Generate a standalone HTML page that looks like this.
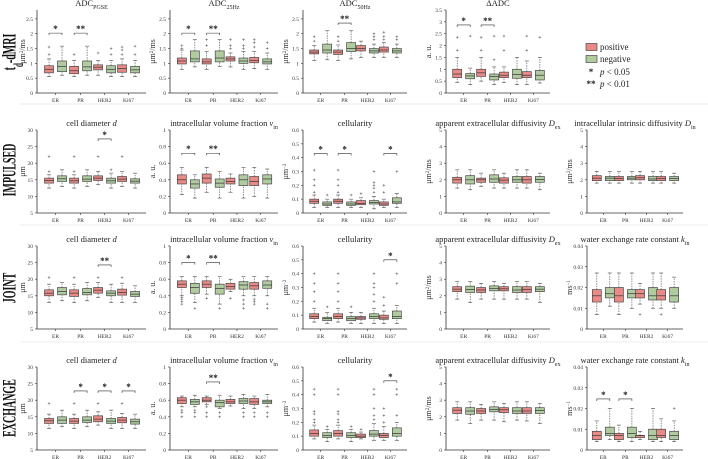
<!DOCTYPE html>
<html><head><meta charset="utf-8"><style>
html,body{margin:0;padding:0;background:#fff;}
svg{display:block;font-family:"Liberation Serif",serif;}
</style></head><body>
<svg id="fig" width="708" height="459" viewBox="0 0 708 459" xmlns="http://www.w3.org/2000/svg"></svg>
<script>
// ---------- DATA (whisker-low, q1, median, q3, whisker-high) per group ER,PR,HER2,Ki67 ----------
const categories = ["ER","PR","HER2","Ki67"];
const ticksAdc = [0,0.5,1,1.5,2,2.5];
const ticksDadc = [0,0.5,1,1.5,2,2.5,3,3.5];
const ticksD = [5,10,15,20,25,30];
const ticksV = [0,0.2,0.4,0.6,0.8,1];
const ticksC = [0,0.1,0.2,0.3,0.4,0.5,0.6];
const ticksDiff = [0,1,2,3,4,5];
const ticksK = [0,0.01,0.02,0.03,0.04];

// Row 1
const pgseRed = [[0.55,0.68,0.8,0.92,1.15],[0.55,0.65,0.75,0.9,1.1],[0.6,0.78,0.87,0.95,1.1],[0.55,0.7,0.82,0.95,1.15]];
const pgseGreen = [[0.6,0.72,0.9,1.08,1.58],[0.6,0.75,0.88,1.08,1.58],[0.55,0.68,0.8,0.92,1.1],[0.55,0.68,0.78,0.9,1.1]];
const pgseOutRed = [[1.3,1.55],[1.3],[1.35],[1.3,1.45,1.55]];
const pgseOutGreen = [[],[],[1.3,1.5],[1.3,1.58]];
const pgseSig = ["*","**","",""];

const a25Red = [[0.8,0.98,1.08,1.18,1.45],[0.8,0.98,1.05,1.15,1.4],[0.88,1.08,1.15,1.22,1.35],[0.82,1.02,1.1,1.2,1.4]];
const a25Green = [[0.88,1.05,1.15,1.42,1.8],[0.9,1.05,1.18,1.42,1.8],[0.8,1.0,1.08,1.18,1.4],[0.8,0.98,1.05,1.15,1.35]];
const a25OutRed = [[1.5,1.6],[1.6,1.8],[1.5,1.6,1.8],[1.55,1.7,1.8]];
const a25OutGreen = [[],[],[1.5,1.6,1.8],[1.5,1.7]];
const a25Sig = ["*","**","",""];

const a50Red = [[1.1,1.32,1.38,1.45,1.6],[1.1,1.3,1.38,1.45,1.62],[1.2,1.42,1.5,1.6,1.75],[1.2,1.38,1.45,1.55,1.7]];
const a50Green = [[1.12,1.35,1.45,1.65,2.1],[1.15,1.4,1.5,1.7,2.1],[1.2,1.35,1.42,1.5,1.65],[1.2,1.35,1.42,1.5,1.65]];
const a50OutRed = [[1.75,1.9],[1.75,1.9],[],[1.8,1.9,2.05]];
const a50OutGreen = [[],[],[1.8,1.9,2.0],[1.8,1.9]];
const a50Sig = ["","**","",""];

const dadcRed = [[0.45,0.65,0.8,1.0,1.5],[0.5,0.7,0.85,1.0,1.5],[0.45,0.65,0.75,0.88,1.1],[0.35,0.65,0.75,0.9,1.35]];
const dadcGreen = [[0.35,0.6,0.72,0.82,1.05],[0.35,0.55,0.7,0.8,1.1],[0.35,0.62,0.78,1.0,1.5],[0.42,0.55,0.75,0.95,1.5]];
const dadcOutRed = [[1.8,2.35],[1.8,2.35],[1.8,2.4],[1.8,2.4]];
const dadcOutGreen = [[2.4],[1.4,2.4],[],[2.35]];
const dadcSig = ["*","**","",""];

// Row 2 IMPULSED
const idRed = [[12.5,14,14.8,15.5,16.5],[12.5,14,14.7,15.5,16.5],[13.5,14.8,15.5,16.2,17.5],[13,14.5,15.2,16,17.5]];
const idGreen = [[13,14.5,15.3,16.2,18],[13,14.5,15.2,16.2,18],[12.5,14,14.7,15.5,17],[12.5,14,14.6,15.3,17]];
const idOutRed = [[17.5,22],[17.5,22],[22],[22]];
const idOutGreen = [[],[],[18],[]];
const idSig = ["","","*",""];

const ivRed = [[0.22,0.35,0.4,0.46,0.55],[0.25,0.36,0.42,0.47,0.55],[0.25,0.35,0.38,0.42,0.47],[0.2,0.33,0.38,0.44,0.55]];
const ivGreen = [[0.18,0.3,0.35,0.4,0.46],[0.18,0.31,0.36,0.41,0.5],[0.18,0.33,0.4,0.46,0.55],[0.18,0.35,0.41,0.46,0.53]];
const ivOutRed = [[],[],[],[]];
const ivOutGreen = [[],[],[],[]];
const ivSig = ["*","**","",""];

const icRed = [[0.04,0.07,0.085,0.1,0.13],[0.04,0.07,0.085,0.1,0.13],[0.04,0.06,0.07,0.09,0.11],[0.04,0.055,0.065,0.08,0.1]];
const icGreen = [[0.04,0.055,0.065,0.08,0.1],[0.04,0.055,0.065,0.08,0.1],[0.03,0.065,0.075,0.09,0.12],[0.04,0.07,0.08,0.11,0.14]];
const icOutRed = [[0.15,0.2,0.24,0.31],[0.15,0.2,0.24,0.31],[0.14],[0.15,0.2]];
const icOutGreen = [[0.13],[0.13],[0.15,0.18,0.2,0.22,0.3],[0.3]];
const icSig = ["*","*","","*"];

const iexRed = [[1.5,1.8,2.0,2.15,2.6],[1.6,1.85,2.0,2.1,2.4],[1.5,1.8,1.98,2.12,2.4],[1.5,1.8,2.0,2.2,2.6]];
const iexGreen = [[1.4,1.75,2.0,2.25,2.6],[1.5,1.85,2.05,2.3,2.6],[1.5,1.85,2.0,2.2,2.6],[1.4,1.85,2.02,2.2,2.4]];
const iexOutRed = [[],[],[],[]];
const iexOutGreen = [[],[],[],[]];
const iexSig = ["","","",""];

const iinRed = [[1.8,1.95,2.1,2.25,2.5],[1.8,1.95,2.08,2.2,2.5],[1.8,2.0,2.12,2.25,2.5],[1.8,1.95,2.08,2.2,2.5]];
const iinGreen = [[1.8,1.95,2.1,2.2,2.5],[1.8,2.0,2.1,2.2,2.5],[1.8,1.95,2.05,2.2,2.5],[1.8,1.95,2.08,2.2,2.4]];
const iinOutRed = [[],[],[],[]];
const iinOutGreen = [[],[],[],[]];
const iinSig = ["","","",""];

// Row 3 JOINT
const jdRed = [[13,15,15.8,16.8,18.5],[13,14.8,15.8,16.8,18.5],[14.5,15.8,16.7,17.5,19],[13,15.2,16,17,18.8]];
const jdGreen = [[13.5,15.3,16.3,17.5,19],[13.5,15.3,16,17.2,19],[13,15,15.8,16.5,18.5],[13,14.8,15.5,16.3,18]];
const jdOutRed = [[20.5],[20.5],[20.5],[20.5]];
const jdOutGreen = [[],[],[],[]];
const jdSig = ["","","**",""];

const jvRed = [[0.4,0.5,0.54,0.58,0.63],[0.42,0.5,0.54,0.58,0.63],[0.45,0.48,0.51,0.55,0.6],[0.4,0.48,0.52,0.56,0.63]];
const jvGreen = [[0.32,0.43,0.5,0.55,0.63],[0.3,0.42,0.49,0.54,0.63],[0.4,0.48,0.53,0.57,0.63],[0.4,0.49,0.53,0.58,0.63]];
const jvOutRed = [[0.3,0.33,0.36,0.38],[0.37],[0.37],[0.3,0.33,0.36]];
const jvOutGreen = [[0.25],[0.25],[0.25,0.3,0.35],[0.3,0.25]];
const jvSig = ["*","**","",""];

const jcRed = [[0.05,0.075,0.09,0.11,0.15],[0.05,0.075,0.09,0.11,0.15],[0.04,0.07,0.08,0.09,0.12],[0.04,0.07,0.08,0.1,0.13]];
const jcGreen = [[0.04,0.06,0.075,0.085,0.12],[0.04,0.06,0.075,0.09,0.12],[0.04,0.075,0.09,0.11,0.15],[0.04,0.075,0.09,0.13,0.17]];
const jcOutRed = [[0.2,0.27,0.33,0.4],[0.2,0.27,0.33,0.4],[],[0.17,0.23]];
const jcOutGreen = [[0.16],[0.16],[0.2,0.25,0.3,0.33,0.4],[0.33,0.4]];
const jcSig = ["","","","*"];

const jexRed = [[1.8,2.25,2.4,2.55,2.85],[1.8,2.2,2.35,2.5,2.75],[1.8,2.3,2.42,2.55,2.75],[1.8,2.2,2.38,2.55,2.85]];
const jexGreen = [[1.6,2.2,2.38,2.58,2.85],[1.8,2.3,2.45,2.6,2.85],[1.8,2.2,2.35,2.55,2.85],[1.6,2.25,2.4,2.55,2.75]];
const jexOutRed = [[],[],[],[]];
const jexOutGreen = [[],[],[],[]];
const jexSig = ["","","",""];

const jkRed = [[0.007,0.013,0.016,0.019,0.027],[0.007,0.013,0.016,0.020,0.027],[0.012,0.015,0.017,0.019,0.022],[0.010,0.014,0.016,0.019,0.027]];
const jkGreen = [[0.011,0.015,0.017,0.020,0.027],[0.010,0.015,0.017,0.019,0.027],[0.010,0.014,0.016,0.020,0.027],[0.010,0.013,0.016,0.020,0.025]];
const jkOutRed = [[],[],[0.007],[0.007]];
const jkOutGreen = [[],[],[],[]];
const jkSig = ["","","",""];

// Row 4 EXCHANGE
const edRed = [[11.5,13,13.8,14.5,15.8],[11.5,13,13.7,14.5,15.8],[12.5,13.5,14.3,15.3,16.5],[11.5,13.2,14,14.8,16]];
const edGreen = [[12,13,14,15,17],[12,13.3,14,15,17],[11.5,13,13.7,14.5,17],[11.5,12.8,13.5,14.3,15.8]];
const edOutRed = [[19],[19],[19],[19]];
const edOutGreen = [[],[],[],[]];
const edSig = ["","*","*","*"];

const evRed = [[0.52,0.56,0.6,0.63,0.65],[0.55,0.58,0.6,0.63,0.65],[0.53,0.56,0.58,0.61,0.65],[0.5,0.55,0.58,0.62,0.65]];
const evGreen = [[0.52,0.55,0.58,0.61,0.66],[0.5,0.52,0.57,0.6,0.66],[0.5,0.56,0.59,0.62,0.67],[0.52,0.56,0.58,0.6,0.67]];
const evOutRed = [[0.4,0.45,0.48],[0.4,0.45,0.52],[],[0.4,0.45]];
const evOutGreen = [[0.4,0.45,0.48],[0.4,0.45],[0.4,0.45],[0.4,0.45]];
const evSig = ["","**","",""];

const ecRed = [[0.08,0.1,0.12,0.145,0.18],[0.08,0.1,0.12,0.14,0.18],[0.08,0.09,0.1,0.115,0.13],[0.07,0.09,0.105,0.12,0.17]];
const ecGreen = [[0.06,0.09,0.105,0.125,0.15],[0.06,0.09,0.105,0.125,0.15],[0.07,0.1,0.115,0.14,0.19],[0.07,0.1,0.12,0.16,0.2]];
const ecOutRed = [[0.2,0.22,0.26,0.28,0.4,0.44],[0.2,0.22,0.26,0.28,0.4,0.44],[0.15],[0.2,0.25,0.3]];
const ecOutGreen = [[0.17],[0.17],[0.22,0.25,0.3,0.4,0.44],[0.25,0.4,0.44]];
const ecSig = ["","","","*"];

const eexRed = [[1.8,2.2,2.4,2.55,2.9],[1.8,2.2,2.35,2.5,2.75],[1.7,2.25,2.42,2.55,2.8],[1.75,2.2,2.35,2.55,2.9]];
const eexGreen = [[1.6,2.15,2.35,2.55,2.9],[1.8,2.3,2.45,2.6,2.9],[1.8,2.2,2.35,2.55,2.9],[1.6,2.2,2.38,2.55,2.8]];
const eexOutRed = [[],[],[],[]];
const eexOutGreen = [[],[],[],[]];
const eexSig = ["","","",""];

const ekRed = [[0.004,0.005,0.007,0.009,0.014],[0.004,0.005,0.007,0.008,0.012],[0.005,0.006,0.007,0.007,0.009],[0.004,0.006,0.007,0.010,0.015]];
const ekGreen = [[0.005,0.007,0.008,0.011,0.020],[0.004,0.006,0.008,0.011,0.020],[0.004,0.005,0.007,0.010,0.020],[0.004,0.005,0.007,0.009,0.014]];
const ekOutRed = [[],[],[],[]];
const ekOutGreen = [[],[],[],[0.020]];
const ekSig = ["*","*","",""];

// ---------- LAYOUT ----------
const svg = document.getElementById('fig');
const NS = 'http://www.w3.org/2000/svg';
const rowTops = [10,130,246,367];
const colLefts = [37,170,303,446,587];
const colWidths = [109,108,104,104,96];
const panelH = 83;
const groupFrac = [0.17,0.40,0.62,0.84];
const RED = '#ea8a86', GREEN = '#afcb9f', STROKE = '#4a4a4a';

function mk(tag, attrs, parent){
  const e = document.createElementNS(NS, tag);
  for (const k in attrs) e.setAttribute(k, attrs[k]);
  (parent||svg).appendChild(e);
  return e;
}

const rowTitles = ['t<tspan baseline-shift="sub" font-size="7">d</tspan>-dMRI','IMPULSED','JOINT','EXCHANGE'];
const sub = s => '<tspan baseline-shift="sub" font-size="6">'+s+'</tspan>';
const supm2 = 'μm<tspan baseline-shift="super" font-size="5">2</tspan>/ms';

const panels = [
  {r:0,c:0,title:'ADC'+sub('PGSE'),yl:supm2,t:ticksAdc,max:2.8,min:0,red:pgseRed,green:pgseGreen,or:pgseOutRed,og:pgseOutGreen,sig:pgseSig,sv:2.02},
  {r:0,c:1,title:'ADC'+sub('25Hz'),yl:supm2,t:ticksAdc,max:2.8,min:0,red:a25Red,green:a25Green,or:a25OutRed,og:a25OutGreen,sig:a25Sig,sv:2.02},
  {r:0,c:2,title:'ADC'+sub('50Hz'),yl:supm2,t:ticksAdc,max:2.8,min:0,red:a50Red,green:a50Green,or:a50OutRed,og:a50OutGreen,sig:a50Sig,sv:2.36},
  {r:0,c:3,title:'ΔADC',yl:'a. u.',t:ticksDadc,max:3.5,min:0,red:dadcRed,green:dadcGreen,or:dadcOutRed,og:dadcOutGreen,sig:dadcSig,sv:2.87},
  {r:1,c:0,title:'cell diameter <tspan font-style="italic">d</tspan>',yl:'μm',t:ticksD,max:30,min:5,red:idRed,green:idGreen,or:idOutRed,og:idOutGreen,sig:idSig,sv:27.3},
  {r:1,c:1,title:'intracellular volume fraction <tspan font-style="italic">v</tspan>'+sub('in'),yl:'a. u.',t:ticksV,max:1,min:0,red:ivRed,green:ivGreen,or:ivOutRed,og:ivOutGreen,sig:ivSig,sv:0.72},
  {r:1,c:2,title:'cellularity',yl:'μm<tspan baseline-shift="super" font-size="5">−2</tspan>',t:ticksC,max:0.6,min:0,red:icRed,green:icGreen,or:icOutRed,og:icOutGreen,sig:icSig,sv:0.43},
  {r:1,c:3,title:'apparent extracellular diffusivity <tspan font-style="italic">D</tspan>'+sub('ex'),yl:supm2,t:ticksDiff,max:5,min:0,red:iexRed,green:iexGreen,or:iexOutRed,og:iexOutGreen,sig:iexSig,sv:4},
  {r:1,c:4,title:'intracellular intrinsic diffusivity <tspan font-style="italic">D</tspan>'+sub('in'),yl:supm2,t:ticksDiff,max:5,min:0,red:iinRed,green:iinGreen,or:iinOutRed,og:iinOutGreen,sig:iinSig,sv:4},
  {r:2,c:0,title:'cell diameter <tspan font-style="italic">d</tspan>',yl:'μm',t:ticksD,max:30,min:5,red:jdRed,green:jdGreen,or:jdOutRed,og:jdOutGreen,sig:jdSig,sv:24.3},
  {r:2,c:1,title:'intracellular volume fraction <tspan font-style="italic">v</tspan>'+sub('in'),yl:'a. u.',t:ticksV,max:1,min:0,red:jvRed,green:jvGreen,or:jvOutRed,og:jvOutGreen,sig:jvSig,sv:0.8},
  {r:2,c:2,title:'cellularity',yl:'μm<tspan baseline-shift="super" font-size="5">−2</tspan>',t:ticksC,max:0.6,min:0,red:jcRed,green:jcGreen,or:jcOutRed,og:jcOutGreen,sig:jcSig,sv:0.5},
  {r:2,c:3,title:'apparent extracellular diffusivity <tspan font-style="italic">D</tspan>'+sub('ex'),yl:supm2,t:ticksDiff,max:5,min:0,red:jexRed,green:jexGreen,or:jexOutRed,og:jexOutGreen,sig:jexSig,sv:4},
  {r:2,c:4,title:'water exchange rate constant <tspan font-style="italic">k</tspan>'+sub('in'),yl:'ms<tspan baseline-shift="super" font-size="5">−1</tspan>',t:ticksK,max:0.04,min:0,red:jkRed,green:jkGreen,or:jkOutRed,og:jkOutGreen,sig:jkSig,sv:0.03},
  {r:3,c:0,title:'cell diameter <tspan font-style="italic">d</tspan>',yl:'μm',t:ticksD,max:30,min:5,red:edRed,green:edGreen,or:edOutRed,og:edOutGreen,sig:edSig,sv:22.8},
  {r:3,c:1,title:'intracellular volume fraction <tspan font-style="italic">v</tspan>'+sub('in'),yl:'a. u.',t:ticksV,max:1,min:0,red:evRed,green:evGreen,or:evOutRed,og:evOutGreen,sig:evSig,sv:0.82},
  {r:3,c:2,title:'cellularity',yl:'μm<tspan baseline-shift="super" font-size="5">−2</tspan>',t:ticksC,max:0.6,min:0,red:ecRed,green:ecGreen,or:ecOutRed,og:ecOutGreen,sig:ecSig,sv:0.5},
  {r:3,c:3,title:'apparent extracellular diffusivity <tspan font-style="italic">D</tspan>'+sub('ex'),yl:supm2,t:ticksDiff,max:5,min:0,red:eexRed,green:eexGreen,or:eexOutRed,og:eexOutGreen,sig:eexSig,sv:4},
  {r:3,c:4,title:'water exchange rate constant <tspan font-style="italic">k</tspan>'+sub('in'),yl:'ms<tspan baseline-shift="super" font-size="5">−1</tspan>',t:ticksK,max:0.04,min:0,red:ekRed,green:ekGreen,or:ekOutRed,og:ekOutGreen,sig:ekSig,sv:0.0246}
];

// separators
[104,225,342].forEach(y=>{
  const l = mk('line',{x1:20,x2:708,y1:y,y2:y,stroke:'#eeeeee','stroke-width':1});
  
  
});

// row titles (tall, narrow bold serif)
const rowCenters = [52,170,288,408];
rowTitles.forEach((t,i)=>{
  const tx = mk('text',{x:0,y:0,transform:`translate(15.5,${rowCenters[i]}) rotate(-90) scale(1,1.9)`,'text-anchor':'middle','font-size':10,'font-weight':'bold',fill:'#111'});
  tx.innerHTML = t;
  
  
});

function fmt(v){ return String(+v.toFixed(3)); }

panels.forEach(p=>{
  const g = mk('g',{});
  
  
  const L = colLefts[p.c], W = colWidths[p.c], T = rowTops[p.r], B = T+panelH;
  const y = v => B - (v-p.min)/(p.max-p.min)*panelH;
  const xg = i => L + groupFrac[i]*W;
  const tt = mk('text',{x:L+W/2,y:T-4,'text-anchor':'middle','font-size':8.5,fill:'#222'},g);
  tt.innerHTML = p.title;
  
  
  const ax = mk('path',{d:`M${L},${T} V${B} H${L+W}`,fill:'none',stroke:'#333','stroke-width':0.8},g);
  
  
  p.t.forEach(v=>{
    mk('line',{x1:L-2,x2:L,y1:y(v),y2:y(v),stroke:'#333','stroke-width':0.6},g);
    const tl = mk('text',{x:L-4,y:y(v)+2,'text-anchor':'end','font-size':5.5,fill:'#333'},g);
    tl.textContent = fmt(v);
    
    
  });
  const ylx = p.c===0 ? L-12 : L-15;
  const yl = mk('text',{transform:`translate(${ylx},${T+panelH/2}) rotate(-90)`,'text-anchor':'middle','font-size':8,fill:'#333'},g);
  yl.innerHTML = p.yl;
  
  
  categories.forEach((c,i)=>{
    mk('line',{x1:xg(i),x2:xg(i),y1:B,y2:B+2,stroke:'#333','stroke-width':0.6},g);
    const cl = mk('text',{x:xg(i),y:B+9,'text-anchor':'middle','font-size':5.5,fill:'#333'},g);
    cl.textContent = c;
    
    
    [[p.red,p.or,RED,-6.5],[p.green,p.og,GREEN,6.5]].forEach(([arr,out,col,off])=>{
      const s = arr[i], cx = xg(i)+off, hw = 4.5;
      const bg = mk('g',{},g);
      
      
      mk('line',{x1:cx,x2:cx,y1:y(s[0]),y2:y(s[1]),stroke:STROKE,'stroke-width':0.6,'stroke-dasharray':'1.5,1'},bg);
      mk('line',{x1:cx,x2:cx,y1:y(s[3]),y2:y(s[4]),stroke:STROKE,'stroke-width':0.6,'stroke-dasharray':'1.5,1'},bg);
      mk('line',{x1:cx-2,x2:cx+2,y1:y(s[0]),y2:y(s[0]),stroke:STROKE,'stroke-width':0.6},bg);
      mk('line',{x1:cx-2,x2:cx+2,y1:y(s[4]),y2:y(s[4]),stroke:STROKE,'stroke-width':0.6},bg);
      mk('rect',{x:cx-hw,y:y(s[3]),width:hw*2,height:Math.max(0.8,y(s[1])-y(s[3])),fill:col,stroke:STROKE,'stroke-width':0.7},bg);
      mk('line',{x1:cx-hw,x2:cx+hw,y1:y(s[2]),y2:y(s[2]),stroke:'#333','stroke-width':0.7},bg);
      out[i].forEach(o=>{
        mk('path',{d:`M${cx-1.3},${y(o)} h2.6 M${cx},${y(o)-1.3} v2.6`,stroke:'#555','stroke-width':0.5},bg);
      });
    });
    if (p.sig[i]) {
      const sy = y(p.sv), x1 = xg(i)-6.5, x2 = xg(i)+6.5;
      const br = mk('path',{d:`M${x1},${sy+2} V${sy} H${x2} V${sy+2}`,fill:'none',stroke:'#333','stroke-width':0.6},g);
      
      
      const st = mk('text',{x:xg(i),y:sy-1,'text-anchor':'middle','font-size':9,'font-weight':'bold',fill:'#222'},g);
      st.textContent = p.sig[i];
      
      
    }
  });
});

// legend
const lg = mk('g',{});


[['positive',RED,47],['negative',GREEN,59]].forEach(([t,c,yy])=>{
  mk('rect',{x:586,y:yy-3.5,width:11,height:7,fill:c,stroke:STROKE,'stroke-width':0.7},lg);
  const e = mk('text',{x:600,y:yy+3,'font-size':9,fill:'#222'},lg);
  e.textContent = t;
  
  
});
[['*','<tspan font-style="italic">p</tspan> &lt; 0.05',72],['**','<tspan font-style="italic">p</tspan> &lt; 0.01',84]].forEach(([m,t,yy])=>{
  const a = mk('text',{x:591,y:yy+3,'text-anchor':'middle','font-size':9,'font-weight':'bold',fill:'#222'},lg);
  a.textContent = m;
  
  
  const e = mk('text',{x:600,y:yy+3,'font-size':9,fill:'#222'},lg);
  e.innerHTML = t;
  
  
});
</script>
</body></html>
